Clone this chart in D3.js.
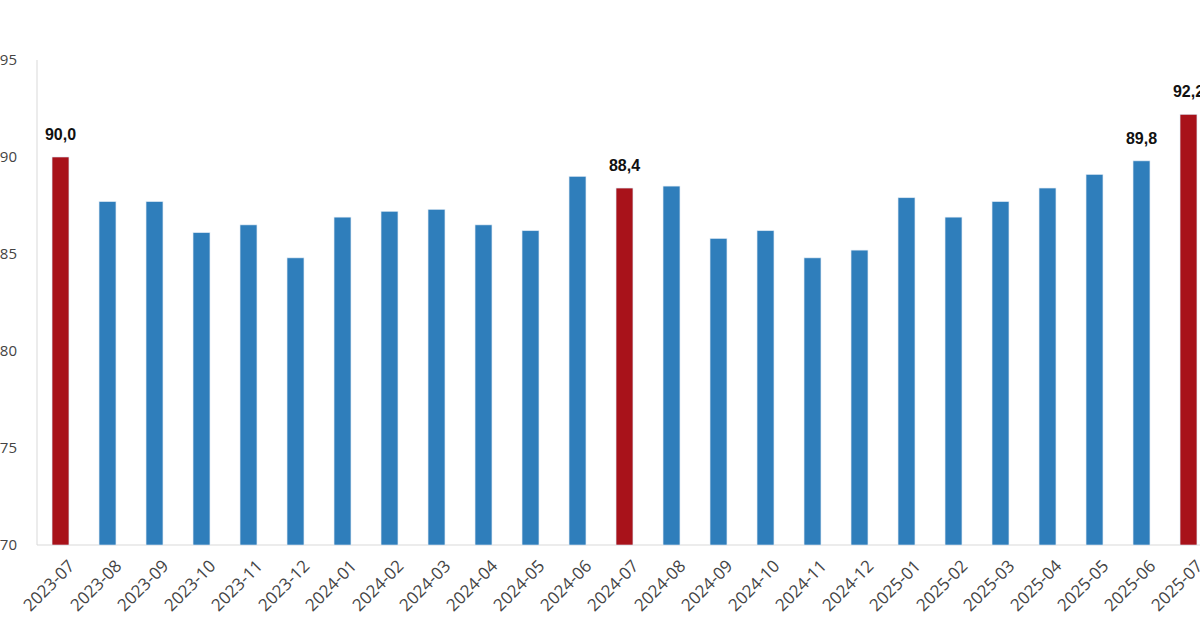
<!DOCTYPE html>
<html>
<head>
<meta charset="utf-8">
<script src="https://cdn.jsdelivr.net/npm/d3@7/dist/d3.min.js"></script>
<style>
  html, body { margin: 0; padding: 0; background: #fff; }
  #container { width: 1200px; height: 628px; overflow: hidden; }
  .tick-label { font-family: "Open Sans", sans-serif; fill: #444; }
  .val-label { font-family: "Liberation Sans", Arial, sans-serif; font-size: 16px; font-weight: bold; fill: #111; }
</style>
</head>
<body>
<div id="container"></div>
<script>
const months = ["2023-07","2023-08","2023-09","2023-10","2023-11","2023-12",
                "2024-01","2024-02","2024-03","2024-04","2024-05","2024-06",
                "2024-07","2024-08","2024-09","2024-10","2024-11","2024-12",
                "2025-01","2025-02","2025-03","2025-04","2025-05","2025-06","2025-07"];
const values = [90.0, 87.7, 87.7, 86.1, 86.5, 84.8,
                86.9, 87.2, 87.3, 86.5, 86.2, 89.0,
                88.4, 88.5, 85.8, 86.2, 84.8, 85.2,
                87.9, 86.9, 87.7, 88.4, 89.1, 89.8, 92.2];
const highlighted = ["2023-07", "2024-07", "2025-07"];
const labelled = ["2023-07", "2024-07", "2025-06", "2025-07"];
const yTicks = [70, 75, 80, 85, 90, 95];

const dataset = months.map((m, i) => ({month: m, value: values[i]}));

const w = 1200;
const h = 628;
const plotLeft = 37;
const plotTop = 60;
const plotBottom = 545;

const svg = d3.select("#container")
              .append("svg")
              .attr("width", w)
              .attr("height", h);

var xScale = d3.scaleBand()
               .domain(months)
               .range([plotLeft, 1212])
               .paddingInner(0.64)
               .paddingOuter(0.32);

var yScale = d3.scaleLinear()
               .domain([70, 95])
               .range([plotBottom, plotTop]);

// axis lines
svg.append("line")
   .attr("x1", plotLeft).attr("x2", plotLeft)
   .attr("y1", plotTop).attr("y2", plotBottom)
   .attr("stroke", "#d9d9d9");

svg.append("line")
   .attr("x1", plotLeft).attr("x2", w)
   .attr("y1", plotBottom).attr("y2", plotBottom)
   .attr("stroke", "#d9d9d9");

// y tick labels
svg.selectAll(".ytick")
   .data(yTicks)
   .enter()
   .append("text")
   .attr("class", "tick-label")
   .style("font-size", "15px")
   .attr("x", 17)
   .attr("y", (d) => yScale(d))
   .attr("dy", "0.35em")
   .attr("text-anchor", "end")
   .text((d) => d);

// bars
svg.selectAll("rect.bar")
   .data(dataset)
   .enter()
   .append("rect")
   .attr("class", "bar")
   .attr("x", (d) => xScale(d.month))
   .attr("y", (d) => yScale(d.value))
   .attr("width", xScale.bandwidth())
   .attr("height", (d) => plotBottom - yScale(d.value))
   .attr("fill", (d) => highlighted.includes(d.month) ? "#a8121a" : "#2f7ebb")
   .attr("stroke", "#dce8f3")
   .attr("stroke-width", 0.6);

// value labels
svg.selectAll(".val-label")
   .data(dataset.filter((d) => labelled.includes(d.month)))
   .enter()
   .append("text")
   .attr("class", "val-label")
   .attr("x", (d) => xScale(d.month) + xScale.bandwidth() / 2)
   .attr("y", (d) => yScale(d.value) - 17)
   .attr("text-anchor", "middle")
   .text((d) => d.value.toFixed(1).replace(".", ","));

// x tick labels, rotated
svg.selectAll(".xtick")
   .data(months)
   .enter()
   .append("text")
   .attr("class", "tick-label")
   .style("font-size", "17px")
   .attr("text-anchor", "end")
   .attr("transform", (d) => "translate(" + (xScale(d) + xScale.bandwidth() / 2 + 11) + "," + (plotBottom + 18) + ") rotate(-45)")
   .attr("dy", "0.35em")
   .text((d) => d);
</script>
</body>
</html>
